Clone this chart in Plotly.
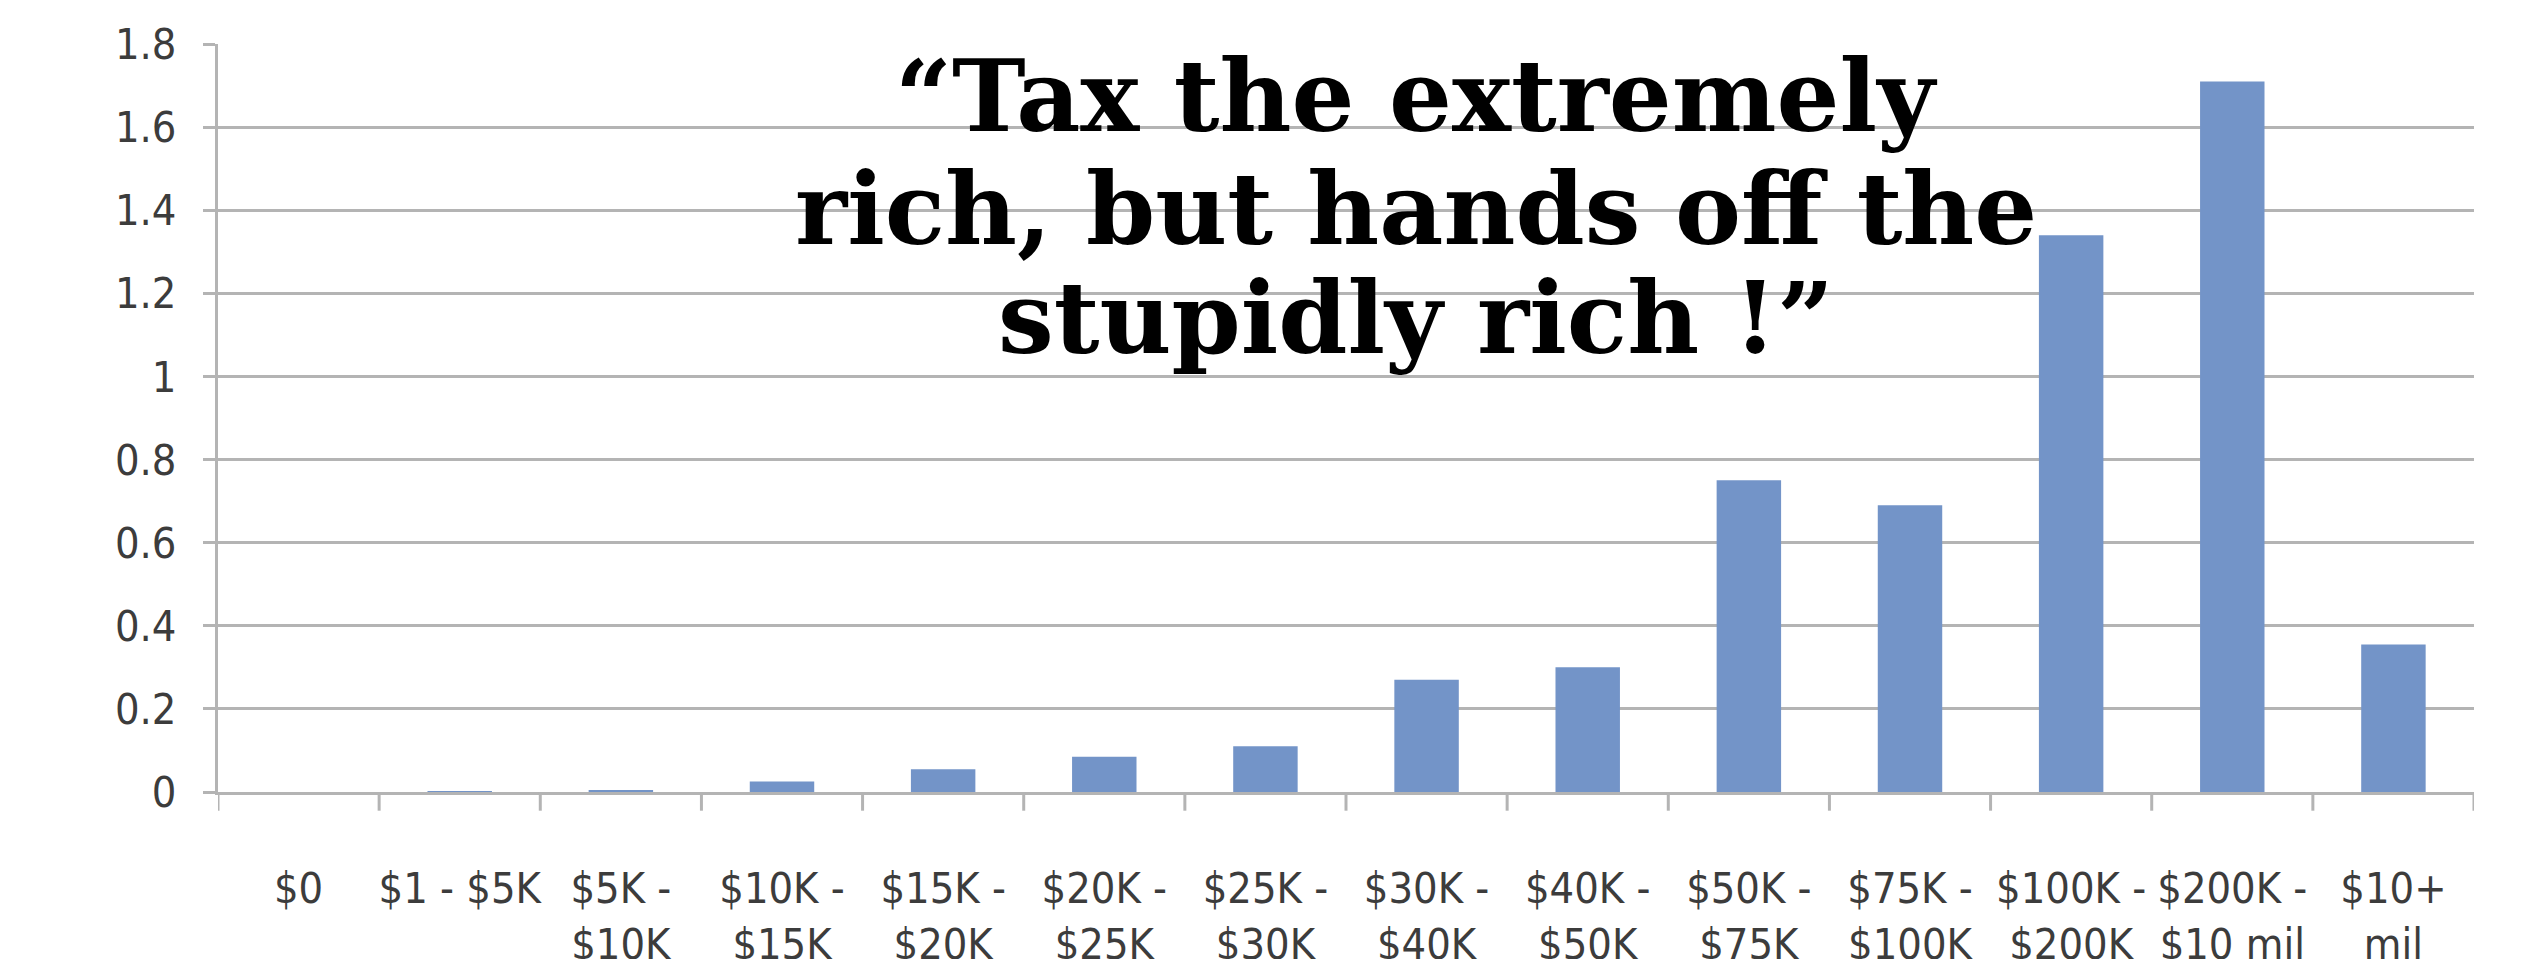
import plotly.graph_objects as go

# Income brackets (x axis) and the value plotted for each bracket
brackets = [
    "$0", "$1 - $5K", "$5K -<br>$10K", "$10K -<br>$15K", "$15K -<br>$20K",
    "$20K -<br>$25K", "$25K -<br>$30K", "$30K -<br>$40K", "$40K -<br>$50K",
    "$50K -<br>$75K", "$75K -<br>$100K", "$100K -<br>$200K",
    "$200K -<br>$10 mil", "$10+<br>mil",
]
values = [0.0, 0.002, 0.005, 0.025, 0.055, 0.085, 0.11, 0.27, 0.30,
          0.75, 0.69, 1.34, 1.71, 0.355]

y_ticks = [0, 0.2, 0.4, 0.6, 0.8, 1.0, 1.2, 1.4, 1.6, 1.8]
y_tick_text = ["0", "0.2", "0.4", "0.6", "0.8", "1", "1.2", "1.4", "1.6", "1.8"]

# Headline, one entry per line so the line spacing can be set tightly
headline_lines = ["“Tax the extremely", "rich, but hands off the", "stupidly rich !”"]
headline_y = [0.930, 0.779, 0.634]

label_font = dict(family="Liberation Sans Narrow, DejaVu Sans Condensed, sans-serif",
                  size=43, color="#3c3c3c")
grid_color = "#b4b4b4"

fig = go.Figure(
    go.Bar(
        x=list(range(len(brackets))),
        y=values,
        marker=dict(color="#7394c8", line=dict(width=0)),
    )
)

fig.update_layout(
    width=2536,
    height=959,
    margin=dict(l=218, r=62, t=44, b=167, autoexpand=False),
    paper_bgcolor="white",
    plot_bgcolor="white",
    bargap=0.6,
    showlegend=False,
    xaxis=dict(
        tickmode="array",
        tickvals=list(range(len(brackets))),
        ticktext=brackets,
        range=[-0.5, len(brackets) - 0.5],
        showgrid=False,
        showline=True,
        linecolor=grid_color,
        linewidth=3,
        ticks="",
        tickfont=label_font,
        ticklabelstandoff=56,
        zeroline=False,
        automargin=False,
    ),
    yaxis=dict(
        range=[0, 1.8],
        tickmode="array",
        tickvals=y_ticks,
        ticktext=y_tick_text,
        showgrid=True,
        gridcolor=grid_color,
        gridwidth=3,
        showline=True,
        linecolor=grid_color,
        linewidth=3,
        ticks="outside",
        ticklen=12,
        tickwidth=3,
        tickcolor=grid_color,
        tickfont=label_font,
        ticklabelstandoff=18,
        zeroline=False,
        automargin=False,
    ),
)

for line, ypos in zip(headline_lines, headline_y):
    fig.add_annotation(
        text=line,
        xref="paper", yref="paper",
        x=0.531, y=ypos,
        xanchor="center", yanchor="middle",
        showarrow=False,
        font=dict(family="DejaVu Serif", size=99, color="black", weight="bold"),
    )

# Tick marks between brackets along the baseline
for i in range(len(brackets) + 1):
    fig.add_shape(
        type="line", xref="x", yref="paper",
        x0=i - 0.5, x1=i - 0.5, y0=0, y1=-0.025,
        line=dict(color=grid_color, width=3),
    )

fig.write_html("out.html")
